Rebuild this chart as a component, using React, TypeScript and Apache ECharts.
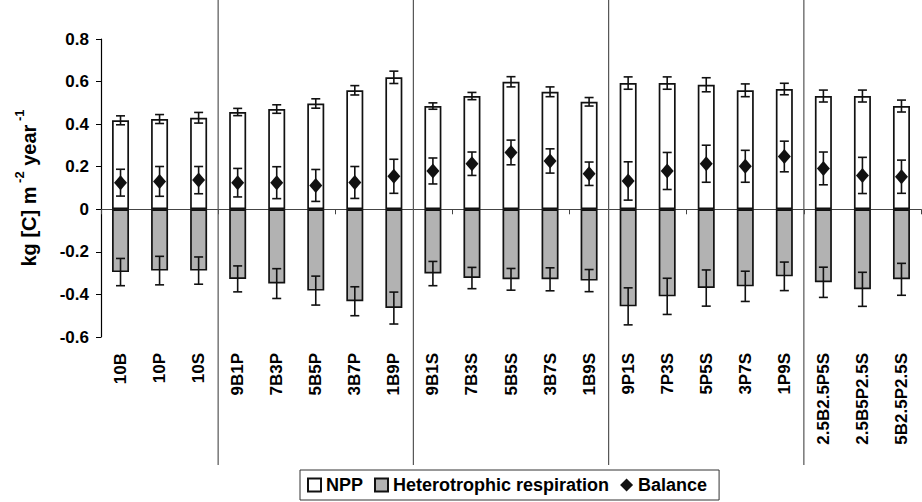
import React, { useEffect, useRef } from "react";
import * as echarts from "echarts";

const categories = [
  "10B", "10P", "10S",
  "9B1P", "7B3P", "5B5P", "3B7P", "1B9P",
  "9B1S", "7B3S", "5B5S", "3B7S", "1B9S",
  "9P1S", "7P3S", "5P5S", "3P7S", "1P9S",
  "2.5B2.5P5S", "2.5B5P2.5S", "5B2.5P2.5S",
];
const npp = [0.418, 0.424, 0.43, 0.457, 0.471, 0.497, 0.559, 0.62, 0.485, 0.532, 0.599, 0.552, 0.505, 0.593, 0.593, 0.585, 0.559, 0.565, 0.532, 0.532, 0.485];
const nppErr = [0.021, 0.021, 0.025, 0.017, 0.02, 0.022, 0.022, 0.029, 0.015, 0.017, 0.024, 0.023, 0.02, 0.029, 0.029, 0.033, 0.03, 0.027, 0.028, 0.028, 0.028];
const resp = [-0.295, -0.288, -0.288, -0.327, -0.349, -0.382, -0.432, -0.464, -0.302, -0.323, -0.329, -0.329, -0.335, -0.456, -0.409, -0.37, -0.362, -0.315, -0.343, -0.376, -0.329];
const respErr = [0.064, 0.067, 0.064, 0.061, 0.07, 0.068, 0.068, 0.075, 0.057, 0.05, 0.051, 0.054, 0.052, 0.087, 0.085, 0.085, 0.071, 0.067, 0.071, 0.08, 0.075];
const balance = [0.125, 0.131, 0.137, 0.125, 0.125, 0.112, 0.126, 0.155, 0.18, 0.214, 0.267, 0.227, 0.167, 0.133, 0.18, 0.214, 0.202, 0.248, 0.192, 0.159, 0.153];
const balErr = [0.063, 0.07, 0.064, 0.067, 0.075, 0.075, 0.075, 0.08, 0.061, 0.055, 0.058, 0.057, 0.055, 0.09, 0.087, 0.087, 0.075, 0.072, 0.077, 0.085, 0.078];
const groupStarts = [3, 8, 13, 18];

const FONT = "'Liberation Sans', Arial, Helvetica, sans-serif";

function errorRender(params: any, api: any) {
  const x = api.value(0);
  const v = api.value(1);
  const e = api.value(2);
  const top = api.coord([x, v + e]);
  const bot = api.coord([x, v - e]);
  const hw = 4.5;
  const style = { stroke: "#111", lineWidth: 1.6 };
  return {
    type: "group",
    children: [
      { type: "line", shape: { x1: top[0], y1: top[1], x2: bot[0], y2: bot[1] }, style },
      { type: "line", shape: { x1: top[0] - hw, y1: top[1], x2: top[0] + hw, y2: top[1] }, style },
      { type: "line", shape: { x1: bot[0] - hw, y1: bot[1], x2: bot[0] + hw, y2: bot[1] }, style },
    ],
  };
}

function sepRender(params: any, api: any) {
  const i = api.value(0);
  const c = api.coord([i, 0]);
  const bw = api.size([1, 0])[0];
  const x = c[0] - bw / 2;
  return {
    type: "line",
    shape: { x1: x, y1: 0, x2: x, y2: 465 },
    style: { stroke: "#555", lineWidth: 1.2 },
  };
}

export default function App() {
  const ref = useRef<HTMLDivElement>(null);
  useEffect(() => {
    document.body.style.margin = "0";
    const chart = echarts.init(ref.current!, undefined, { renderer: "svg" });
    const errData = (vals: number[], errs: number[]) => vals.map((v, i) => [i, v, errs[i]]);
    chart.setOption({
      animation: false,
      textStyle: { fontFamily: FONT },
      grid: { left: 101, right: 1, top: 39, bottom: 165 },
      legend: {
        left: 300,
        top: 470,
        orient: "horizontal",
        selectedMode: false,
        borderColor: "#333",
        borderWidth: 1,
        padding: [6, 12, 6, 7],
        itemGap: 11,
        itemWidth: 13,
        itemHeight: 13,
        textStyle: { fontFamily: FONT, fontSize: 18, fontWeight: "bold", color: "#000" },
        data: [
          { name: "NPP", icon: "rect" },
          { name: "Heterotrophic respiration", icon: "rect" },
          { name: "Balance", icon: "diamond" },
        ],
      },
      xAxis: [
        {
          type: "category",
          data: categories,
          axisLine: { onZero: true, lineStyle: { color: "#444", width: 1.2 } },
          axisTick: { show: true, length: 5, lineStyle: { color: "#444" } },
          axisLabel: { show: false },
          splitLine: { show: false },
        },
        {
          type: "category",
          data: categories,
          position: "bottom",
          axisLine: { show: false, onZero: false },
          axisTick: { show: false },
          axisLabel: {
            rotate: 90,
            margin: 16,
            interval: 0,
            fontFamily: FONT,
            fontSize: 17,
            fontWeight: "bold",
            color: "#000",
          },
        },
      ],
      yAxis: {
        type: "value",
        min: -0.6,
        max: 0.8,
        interval: 0.2,
        axisLine: { show: true, lineStyle: { color: "#000", width: 1.2 } },
        axisTick: { show: true, length: 5, lineStyle: { color: "#000" } },
        splitLine: { show: false },
        axisLabel: {
          margin: 12,
          fontFamily: FONT,
          fontSize: 17,
          fontWeight: "bold",
          color: "#000",
          formatter: (v: number) => {
            const r = Math.round(v * 10) / 10;
            return r === 0 ? "0" : String(r);
          },
        },
        name: "{a|kg [C] m}{s| -2}{a| year}{s| -1}",
        nameLocation: "middle",
        nameGap: 62,
        nameRotate: 90,
        nameTextStyle: {
          rich: {
            a: { fontFamily: FONT, fontSize: 20, fontWeight: "bold", color: "#000", lineHeight: 26, verticalAlign: "bottom" },
            s: { fontFamily: FONT, fontSize: 13, fontWeight: "bold", color: "#000", lineHeight: 26, verticalAlign: "top" },
          },
        },
      },
      series: [
        {
          name: "NPP",
          type: "bar",
          data: npp,
          barWidth: 17,
          barGap: "-100%",
          itemStyle: { color: "#fff", borderColor: "#111", borderWidth: 1.7 },
          z: 2,
        },
        {
          name: "Heterotrophic respiration",
          type: "bar",
          data: resp,
          barWidth: 17,
          barGap: "-100%",
          itemStyle: { color: "#b2b2b2", borderColor: "#111", borderWidth: 1.7 },
          z: 2,
        },
        {
          name: "sep",
          type: "custom",
          renderItem: sepRender,
          data: groupStarts.map((g) => [g, 0]),
          encode: { x: 0, y: 1 },
          clip: false,
          z: 1,
          silent: true,
        },
        {
          name: "nppErr",
          type: "custom",
          renderItem: errorRender,
          data: errData(npp, nppErr),
          encode: { x: 0, y: 1 },
          z: 3,
        },
        {
          name: "respErr",
          type: "custom",
          renderItem: errorRender,
          data: errData(resp, respErr),
          encode: { x: 0, y: 1 },
          z: 3,
        },
        {
          name: "balErr",
          type: "custom",
          renderItem: errorRender,
          data: errData(balance, balErr),
          encode: { x: 0, y: 1 },
          z: 3,
        },
        {
          name: "Balance",
          type: "scatter",
          data: balance,
          symbol: "diamond",
          symbolSize: [13, 15],
          itemStyle: { color: "#111", opacity: 1 },
          z: 4,
        },
      ],
    });
    return () => chart.dispose();
  }, []);
  return <div ref={ref} style={{ width: 922, height: 502 }} />;
}
